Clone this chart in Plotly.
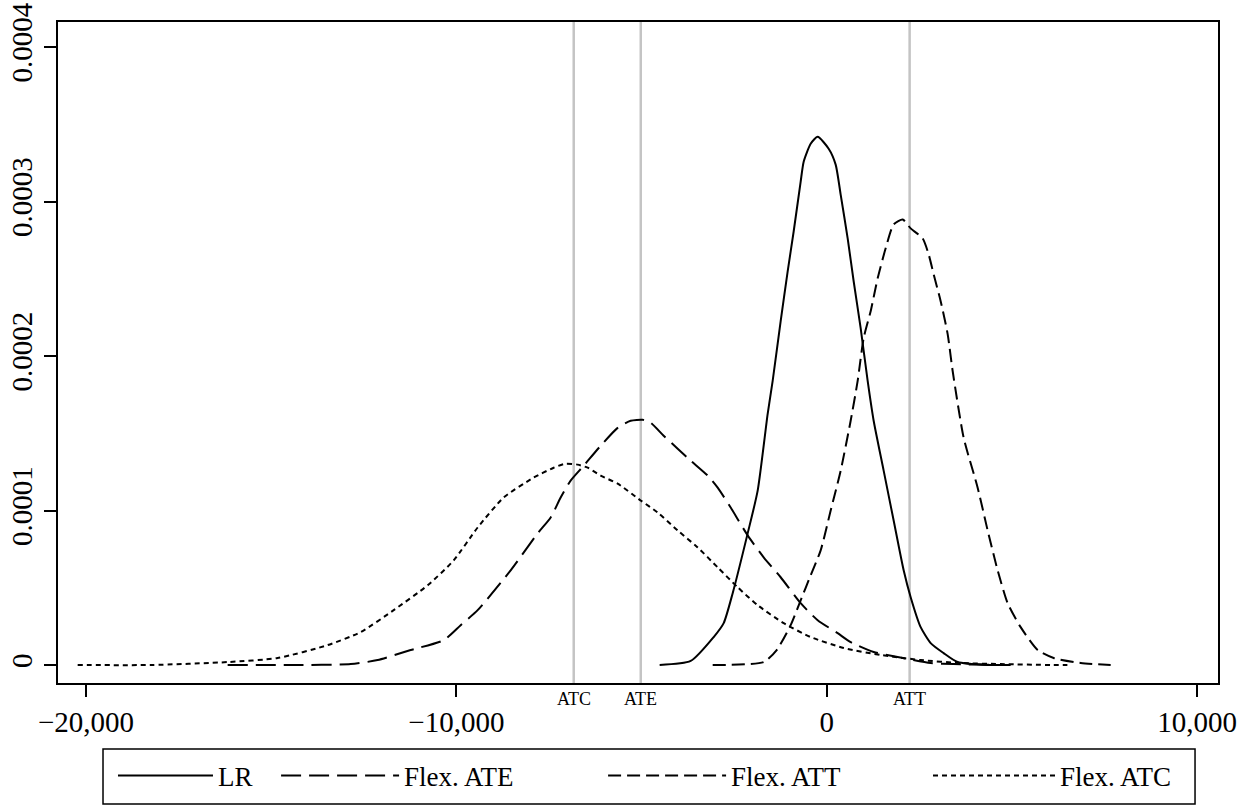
import plotly.graph_objects as go

# ---- data ----
lr_x = [-4510, -3672, -3051, -2781, -2538, -2133, -1863, -1593, -1458, -1242, -1053, -891,
        -702, -621, -432, -243, 54, 243, 378, 567, 729, 918, 1107, 1269, 1539, 1809, 2079,
        2268, 2538, 2808, 3159, 3537, 4347, 4887]
lr_y = [0.0, 0.026e-4, 0.181e-4, 0.271e-4, 0.465e-4, 0.852e-4, 1.129e-4, 1.626e-4, 1.839e-4,
        2.226e-4, 2.548e-4, 2.806e-4, 3.129e-4, 3.258e-4, 3.374e-4, 3.419e-4, 3.342e-4,
        3.239e-4, 3.045e-4, 2.761e-4, 2.484e-4, 2.181e-4, 1.839e-4, 1.581e-4, 1.258e-4,
        0.935e-4, 0.613e-4, 0.439e-4, 0.245e-4, 0.142e-4, 0.077e-4, 0.019e-4, 0.0, 0.0]

ate_x = [-16175, -14393, -12853, -12124, -11233, -10342, -9883, -9424, -8533, -7804, -7453,
         -7183, -6913, -6562, -6103, -5644, -5293, -4968, -4753, -4402, -4023, -3672, -3213,
         -2943, -2592, -2133, -1701, -1242, -702, -243, 297, 648, 1269, 1917, 2808, 3429,
         4698, 4968]
ate_y = [0.0, 0.0, 0.006e-4, 0.032e-4, 0.097e-4, 0.161e-4, 0.258e-4, 0.355e-4, 0.613e-4,
         0.852e-4, 0.955e-4, 1.084e-4, 1.194e-4, 1.29e-4, 1.419e-4, 1.535e-4, 1.581e-4,
         1.587e-4, 1.568e-4, 1.484e-4, 1.4e-4, 1.323e-4, 1.226e-4, 1.148e-4, 1.019e-4,
         0.839e-4, 0.697e-4, 0.568e-4, 0.4e-4, 0.29e-4, 0.206e-4, 0.148e-4, 0.084e-4,
         0.052e-4, 0.013e-4, 0.006e-4, 0.0, 0.0]

att_x = [-3078, -1701, -1350, -972, -702, -432, -162, 108, 378, 648, 837, 999, 1188, 1377,
         1593, 1809, 2052, 2268, 2592, 2754, 2889, 3078, 3267, 3402, 3699, 4077, 4347, 4617,
         4887, 5238, 5697, 6130, 6859, 7669]
att_y = [0.0, 0.019e-4, 0.097e-4, 0.258e-4, 0.419e-4, 0.581e-4, 0.742e-4, 1.0e-4, 1.258e-4,
         1.581e-4, 1.839e-4, 2.116e-4, 2.29e-4, 2.503e-4, 2.697e-4, 2.852e-4, 2.884e-4,
         2.826e-4, 2.761e-4, 2.658e-4, 2.529e-4, 2.355e-4, 2.142e-4, 1.903e-4, 1.471e-4,
         1.148e-4, 0.871e-4, 0.613e-4, 0.4e-4, 0.245e-4, 0.097e-4, 0.045e-4, 0.013e-4, 0.0]

atc_x = [-20225, -18254, -16175, -14825, -13474, -12583, -11692, -10774, -10072, -9424,
         -8722, -7912, -7372, -7048, -6724, -6454, -6103, -5644, -5023, -4564, -4023, -3483,
         -2943, -2403, -1863, -1161, -432, 459, 1458, 2538, 3618, 4698, 6049, 6500]
atc_y = [0.0, 0.0, 0.019e-4, 0.045e-4, 0.129e-4, 0.213e-4, 0.355e-4, 0.516e-4, 0.677e-4,
         0.89e-4, 1.084e-4, 1.213e-4, 1.277e-4, 1.303e-4, 1.297e-4, 1.277e-4, 1.226e-4,
         1.174e-4, 1.065e-4, 0.987e-4, 0.871e-4, 0.761e-4, 0.632e-4, 0.503e-4, 0.387e-4,
         0.271e-4, 0.181e-4, 0.11e-4, 0.065e-4, 0.032e-4, 0.013e-4, 0.006e-4, 0.0, 0.0]

series_names = ["LR", "Flex. ATE", "Flex. ATT", "Flex. ATC"]
effect_names = ["ATC", "ATE", "ATT"]
effect_x = [-6830, -5020, 2240]

x_ticks = [-20000, -10000, 0, 10000]
y_ticks = [0, 0.0001, 0.0002, 0.0003, 0.0004]

FONT = "Liberation Serif"

fig = go.Figure()
styles = ["solid", "20px,8px", "13px,6px", "5px,4px"]
legends = ["legend", "legend2", "legend2", "legend3"]
for name, xs, ys, dash, lg in zip(series_names, [lr_x, ate_x, att_x, atc_x],
                                  [lr_y, ate_y, att_y, atc_y], styles, legends):
    fig.add_trace(go.Scatter(x=xs, y=ys, mode="lines", name=name, legend=lg,
                             line=dict(color="black", width=2, dash=dash, shape="spline",
                                       smoothing=0.6)))

for nm, xv in zip(effect_names, effect_x):
    fig.add_shape(type="line", x0=xv, x1=xv, xref="x", y0=0, y1=1, yref="paper",
                  line=dict(color="#c4c4c4", width=2.5), layer="below")
    fig.add_annotation(x=xv, xref="x", y=-0.024, yref="paper", text=nm, showarrow=False,
                       font=dict(family=FONT, size=18, color="black"), yanchor="middle")

# legend frame
fig.add_shape(type="rect", xref="paper", yref="paper", x0=0.0388, x1=0.9802,
              y0=-0.183, y1=-0.0998, line=dict(color="black", width=1.5),
              fillcolor="rgba(0,0,0,0)")

leg_common = dict(orientation="h", yanchor="top", y=-0.1035, xanchor="left",
                  borderwidth=0, bgcolor="rgba(0,0,0,0)",
                  font=dict(size=27, family=FONT, color="black"))

fig.update_layout(
    width=1250, height=806,
    margin=dict(l=58, r=32, t=22, b=123, autoexpand=False),
    paper_bgcolor="white", plot_bgcolor="white",
    font=dict(family=FONT, color="black"),
    showlegend=True,
    legend=dict(x=0.0474, itemwidth=95, **leg_common),
    legend2=dict(x=0.188, itemwidth=118, entrywidth=194, **leg_common),
    legend3=dict(x=0.750, itemwidth=122, **leg_common),
)
fig.update_xaxes(range=[-20756, 10567], tickvals=x_ticks, tickformat=",",
                 ticks="outside", ticklen=12, tickwidth=1.5, tickcolor="black",
                 showline=True, linecolor="black", linewidth=1.5, mirror=True,
                 showgrid=False, zeroline=False, tickfont=dict(size=29, family=FONT),
                 automargin=False, ticklabeloverflow="allow")
fig.update_yaxes(range=[-1.165e-5, 4.162e-4], tickvals=y_ticks, tickformat="~g",
                 ticks="outside", ticklen=12, tickwidth=1.5, tickcolor="black",
                 showline=True, linecolor="black", linewidth=1.5, mirror=True,
                 showgrid=False, zeroline=False, tickangle=-90,
                 tickfont=dict(size=29, family=FONT), ticklabelstandoff=1,
                 automargin=False, ticklabeloverflow="allow")

fig.write_html("out.html", config={"displayModeBar": False},
               post_script="document.body.style.margin='0px';")
